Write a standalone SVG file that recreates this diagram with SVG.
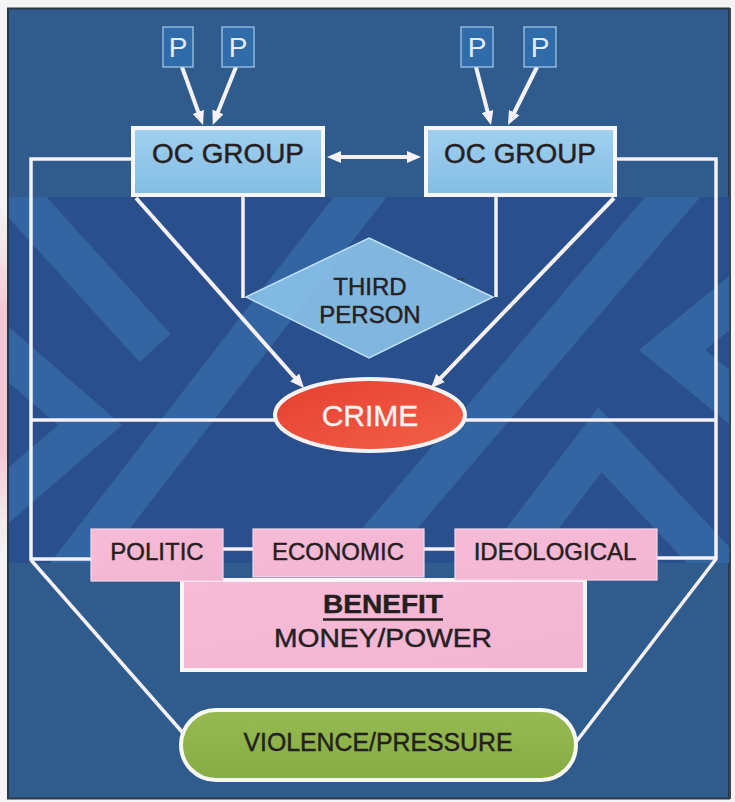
<svg xmlns="http://www.w3.org/2000/svg" width="735" height="802" viewBox="0 0 735 802">
  <defs>
    <style>
      .lbl { font-family: "Liberation Sans", Arial, sans-serif; text-anchor: middle; }
      .dark { fill: #25201f; stroke: #25201f; stroke-width: 0.45; }
      .wire { fill: none; stroke: #F6F1F6; stroke-width: 3.5; stroke-linejoin: miter; }
      .arrow { fill: none; stroke: #F6F1F6; stroke-width: 4; marker-end: url(#ah); }
      .pbox { fill: #2F6CA9; stroke: #A9CBEA; stroke-width: 1.2; }
      .ptxt { fill: #E4EDF7; font-size: 28px; }
      .oc { fill: url(#ocFill); stroke: #F7F7FA; stroke-width: 4; }
      .pink { fill: url(#pinkFill); stroke: #F9D5E6; stroke-width: 1.2; }
      .stripe { fill: none; stroke: #3A75B0; stroke-width: 42; stroke-opacity: 0.6; }
    </style>
    <marker id="ah" viewBox="0 0 14 12" refX="4" refY="6" markerWidth="14" markerHeight="12" markerUnits="userSpaceOnUse" orient="auto-start-reverse">
      <path d="M0,0 L14,6 L0,12 z" fill="#F6F1F6"/>
    </marker>
    <linearGradient id="ocFill" x1="0" y1="0" x2="0" y2="1">
      <stop offset="0" stop-color="#9FD0EF"/>
      <stop offset="1" stop-color="#84BDE5"/>
    </linearGradient>
    <linearGradient id="pinkFill" x1="0" y1="0" x2="1" y2="1">
      <stop offset="0" stop-color="#F6BCD7"/>
      <stop offset="1" stop-color="#F2B4D2"/>
    </linearGradient>
    <linearGradient id="crimeFill" x1="0" y1="0" x2="1" y2="1">
      <stop offset="0" stop-color="#E63F30"/>
      <stop offset="1" stop-color="#F26148"/>
    </linearGradient>
    <linearGradient id="greenFill" x1="0" y1="0" x2="0" y2="1">
      <stop offset="0" stop-color="#97BA52"/>
      <stop offset="1" stop-color="#87AC45"/>
    </linearGradient>
    <linearGradient id="edgeGlow" x1="0" y1="0" x2="0" y2="1">
      <stop offset="0" stop-color="#F6D6DE" stop-opacity="0"/>
      <stop offset="0.3" stop-color="#F4C8D3"/>
      <stop offset="0.7" stop-color="#F4C8D3"/>
      <stop offset="1" stop-color="#F6D6DE" stop-opacity="0"/>
    </linearGradient>
    <clipPath id="bandClip">
      <rect x="9" y="197" width="720" height="366"/>
    </clipPath>
  </defs>

  <!-- page and frame -->
  <rect x="0" y="0" width="735" height="802" fill="#F4F4F4"/>
  <rect x="0" y="200" width="7" height="360" fill="url(#edgeGlow)"/>
  <rect x="8" y="8.5" width="721" height="790" fill="#2F5C8D" stroke="#2A3644" stroke-width="2"/>
  <line x1="730" y1="8" x2="730" y2="799" stroke="#3A4652" stroke-width="2"/>

  <!-- patterned middle band -->
  <g id="band" clip-path="url(#bandClip)">
    <rect x="9" y="197" width="720" height="366" fill="#294F8C"/>
    <path class="stripe" d="M10,188 L155,348"/>
    <path class="stripe" d="M-20,330 L90,425 L-20,520"/>
    <path class="stripe" d="M385,165 L40,610"/>
    <path class="stripe" d="M700,165 L320,610"/>
    <path class="stripe" d="M770,270 L672,350 L770,430"/>
    <path class="stripe" d="M470,610 L600,440 L760,610"/>
  </g>

  <!-- connectors -->
  <g id="connectors">
    <path class="wire" d="M131,159 H31 V559 H92"/>
    <path class="wire" d="M617,159 H716 V558 H657"/>
    <path class="wire" d="M31,560 L183,733"/>
    <path class="wire" d="M716,559 L576,742"/>
    <path class="wire" d="M31,420 H716"/>
    <path class="wire" d="M243,197 V298"/>
    <path class="wire" d="M496,197 V297"/>
    <path class="wire" d="M223,549 H253" stroke-width="5"/>
    <path class="wire" d="M424,549 H455" stroke-width="5"/>
    <!-- members into groups -->
    <line class="arrow" x1="182" y1="67" x2="199.6" y2="115.6"/>
    <line class="arrow" x1="236" y1="67" x2="216.5" y2="115.6"/>
    <line class="arrow" x1="476" y1="67" x2="488.5" y2="115.3"/>
    <line class="arrow" x1="537" y1="67" x2="512.5" y2="116.0"/>
    <!-- group to group -->
    <line class="arrow" x1="337" y1="157" x2="411" y2="157" marker-start="url(#ah)"/>
    <!-- groups to crime -->
    <line class="arrow" x1="136" y1="198" x2="297.4" y2="380.5"/>
    <line class="arrow" x1="614" y1="198" x2="437.9" y2="380.8"/>
  </g>

  <!-- members -->
  <g id="p1"><rect class="pbox" x="163" y="27" width="30" height="40"/><text class="lbl ptxt" x="178" y="57">P</text></g>
  <g id="p2"><rect class="pbox" x="222" y="27" width="32" height="40"/><text class="lbl ptxt" x="238" y="57">P</text></g>
  <g id="p3"><rect class="pbox" x="461" y="27" width="32" height="40"/><text class="lbl ptxt" x="477" y="57">P</text></g>
  <g id="p4"><rect class="pbox" x="524" y="27" width="32" height="40"/><text class="lbl ptxt" x="540" y="57">P</text></g>

  <!-- organised crime groups -->
  <g id="oc-left">
    <rect class="oc" x="133" y="128" width="190" height="67"/>
    <text class="lbl dark" x="228" y="163" font-size="28" textLength="152" lengthAdjust="spacingAndGlyphs">OC GROUP</text>
  </g>
  <g id="oc-right">
    <rect class="oc" x="426" y="128" width="189" height="67"/>
    <text class="lbl dark" x="520" y="163" font-size="28" textLength="152" lengthAdjust="spacingAndGlyphs">OC GROUP</text>
  </g>

  <!-- third person -->
  <g id="third-person">
    <polygon points="369,238 493,297 369,358 246,297" fill="#8DC5EA" fill-opacity="0.88" stroke="#BFE1F6" stroke-width="1.5"/>
    <line x1="457" y1="279" x2="465" y2="279" stroke="#3A3A3A" stroke-width="1.5"/>
    <text class="lbl dark" x="370" y="295" font-size="24">THIRD</text>
    <text class="lbl dark" x="370" y="323" font-size="24">PERSON</text>
  </g>

  <!-- crime -->
  <g id="crime">
    <ellipse cx="370" cy="415" rx="95" ry="36" fill="url(#crimeFill)" stroke="#F7F3F5" stroke-width="4"/>
    <text class="lbl" x="370" y="426" font-size="30" fill="#FBF3F2" stroke="#FBF3F2" stroke-width="0.4">CRIME</text>
  </g>

  <!-- benefit -->
  <g id="benefit">
    <rect x="182" y="580" width="403" height="90" fill="url(#pinkFill)" stroke="#F8F4F8" stroke-width="4"/>
    <text class="lbl dark" x="383" y="613" font-size="26" font-weight="bold" textLength="120" lengthAdjust="spacingAndGlyphs">BENEFIT</text>
    <line x1="323" y1="619.5" x2="443" y2="619.5" stroke="#25201f" stroke-width="2.5"/>
    <text class="lbl dark" x="383" y="647" font-size="26" textLength="218" lengthAdjust="spacingAndGlyphs">MONEY/POWER</text>
  </g>

  <!-- benefit categories -->
  <g id="politic">
    <rect class="pink" x="91" y="529" width="132" height="52"/>
    <text class="lbl dark" x="157" y="560" font-size="24">POLITIC</text>
  </g>
  <g id="economic">
    <rect class="pink" x="253" y="529" width="171" height="48"/>
    <text class="lbl dark" x="338" y="560" font-size="24">ECONOMIC</text>
  </g>
  <g id="ideological">
    <rect class="pink" x="455" y="529" width="202" height="51"/>
    <text class="lbl dark" x="555" y="560" font-size="24">IDEOLOGICAL</text>
  </g>

  <!-- violence / pressure -->
  <g id="violence">
    <rect x="181" y="710" width="395" height="70" rx="35" ry="35" fill="url(#greenFill)" stroke="#F8F8F4" stroke-width="4"/>
    <text class="lbl dark" x="378" y="751" font-size="25" textLength="269" lengthAdjust="spacingAndGlyphs">VIOLENCE/PRESSURE</text>
  </g>
</svg>
